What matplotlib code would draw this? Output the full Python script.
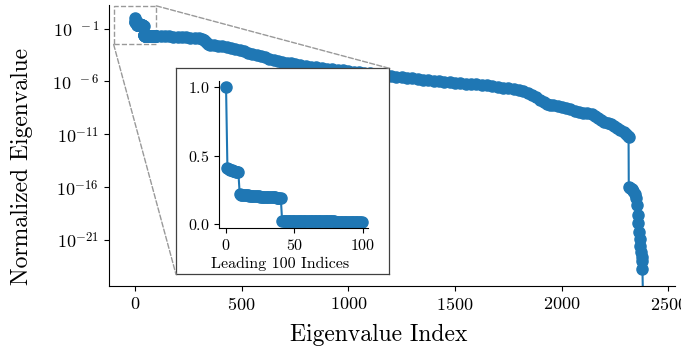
import numpy as np
import matplotlib
matplotlib.use("Agg")
import matplotlib.pyplot as plt
from matplotlib.patches import Rectangle, ConnectionPatch
from matplotlib.ticker import FixedLocator, FixedFormatter, NullLocator

plt.rcParams['font.family'] = 'serif'
plt.rcParams['font.serif'] = ['cmr10', 'DejaVu Serif']
plt.rcParams['mathtext.fontset'] = 'cm'
plt.rcParams['axes.unicode_minus'] = False
plt.rcParams['axes.formatter.use_mathtext'] = True

# leading 100 normalized eigenvalues (index 0..99)
lead_top = [1.0]
lead_second = [0.410, 0.405, 0.400, 0.396, 0.392, 0.388, 0.385, 0.382, 0.379]
lead_third = [0.218, 0.216, 0.215, 0.214, 0.213, 0.212, 0.211, 0.210, 0.209, 0.208,
              0.207, 0.206, 0.206, 0.205, 0.204, 0.203, 0.203, 0.202, 0.201, 0.200,
              0.200, 0.199, 0.198, 0.198, 0.197, 0.196, 0.196, 0.195, 0.194, 0.193,
              0.192]
lead_fourth = [0.0225, 0.0224, 0.0224, 0.0223, 0.0223, 0.0222, 0.0222, 0.0221, 0.0221, 0.0220,
               0.0220, 0.0219, 0.0219, 0.0218, 0.0218, 0.0217, 0.0217, 0.0216, 0.0216, 0.0215,
               0.0215, 0.0214, 0.0214, 0.0213, 0.0213, 0.0212, 0.0212, 0.0211, 0.0211, 0.0210,
               0.0210, 0.0209, 0.0209, 0.0208, 0.0208, 0.0207, 0.0207, 0.0206, 0.0206, 0.0205,
               0.0205, 0.0204, 0.0204, 0.0203, 0.0203, 0.0203, 0.0202, 0.0202, 0.0202, 0.0201,
               0.0201, 0.0201, 0.0201, 0.0200, 0.0200, 0.0200, 0.0200, 0.0200, 0.0200]
leading = lead_top + lead_second + lead_third + lead_fourth

# rest of the spectrum (index, log10 of value)
tail_idx = [120, 140, 160, 180, 200, 220, 240, 260, 280, 300, 315, 325, 332, 340, 350,
            370, 390, 410, 430, 450, 470, 490, 510, 530, 550, 570, 590, 610, 630, 650,
            670, 690, 710, 730, 750, 775, 800, 825, 850, 875, 900, 925, 950, 975, 1000,
            1025, 1050, 1075, 1100, 1125, 1150, 1175, 1200, 1225, 1250, 1275, 1300, 1325,
            1350, 1375, 1400, 1425, 1450, 1475, 1500, 1525, 1550, 1575, 1600, 1625, 1650,
            1675, 1700, 1725, 1750, 1775, 1800, 1820, 1840, 1860, 1880, 1900, 1915, 1930,
            1945, 1960, 1980, 2000, 2020, 2040, 2060, 2080, 2100, 2120, 2140, 2155, 2170,
            2185, 2200, 2215, 2230, 2245, 2260, 2275, 2290, 2300, 2310, 2313,
            2314, 2320, 2328, 2336, 2343, 2348, 2352, 2356, 2359, 2362, 2365, 2368, 2371,
            2374, 2376, 2378, 2381]
tail_log = [-1.71, -1.72, -1.73, -1.75, -1.77, -1.79, -1.82, -1.85, -1.87, -1.90, -1.95,
            -2.10, -2.30, -2.45, -2.52,
            -2.58, -2.63, -2.66, -2.72, -2.85, -2.95, -3.04, -3.15, -3.27, -3.38, -3.50,
            -3.62, -3.72, -3.83, -3.93,
            -4.02, -4.12, -4.21, -4.30, -4.38, -4.46, -4.53, -4.60, -4.66, -4.72, -4.78,
            -4.83, -4.89, -4.95, -5.00,
            -5.06, -5.12, -5.18, -5.24, -5.30, -5.36, -5.42, -5.48, -5.55, -5.60, -5.65,
            -5.70, -5.76,
            -5.83, -5.88, -5.93, -5.98, -6.03, -6.08, -6.13, -6.17, -6.21, -6.25, -6.28,
            -6.32, -6.38,
            -6.44, -6.50, -6.58, -6.64, -6.70, -6.78, -6.90, -7.08, -7.28, -7.50, -7.75,
            -7.98, -8.10,
            -8.18, -8.27, -8.35, -8.42, -8.50, -8.65, -8.80, -8.90, -8.95, -9.02, -9.12,
            -9.28, -9.45,
            -9.62, -9.82, -9.95, -10.05, -10.20, -10.40, -10.60, -10.78, -10.95, -11.15, -11.27,
            -16.0, -16.1, -16.2, -16.35, -16.6, -17.0, -17.7, -18.6, -19.4, -20.2, -20.9,
            -21.6, -22.1,
            -22.6, -23.0, -23.7, -27.0]

yticks = [1e-1, 1e-6, 1e-11, 1e-16, 1e-21]
ytick_labels = [r'$10^{\;\;-1}$', r'$10^{\;\;-6}$', r'$10^{-11}$', r'$10^{-16}$', r'$10^{-21}$']
xticks = [0, 500, 1000, 1500, 2000, 2500]
inset_xticks = [0, 50, 100]
inset_yticks = [0.0, 0.5, 1.0]

blue = '#1f77b4'

lead_idx = np.arange(len(leading))
all_idx = np.concatenate([lead_idx, tail_idx])
all_vals = np.concatenate([np.array(leading), 10.0 ** np.array(tail_log)])

fig = plt.figure(figsize=(6.81, 3.51), dpi=100)
ax = fig.add_axes([0.160, 0.185, 0.831, 0.801])
ax.plot(all_idx, all_vals, '-o', color=blue, lw=1.5, ms=8)
ax.set_yscale('log')
ax.set_xlim(-122, 2530)
ax.set_ylim(10 ** -25.35, 10 ** 1.24)
ax.yaxis.set_major_locator(FixedLocator(yticks))
ax.yaxis.set_major_formatter(FixedFormatter(ytick_labels))
ax.yaxis.set_minor_locator(NullLocator())
ax.set_xticks(xticks)
ax.tick_params(labelsize=13)
ax.spines['top'].set_visible(False)
ax.spines['right'].set_visible(False)
ax.set_xlabel('Eigenvalue Index', fontsize=17)
ax.set_ylabel('Normalized Eigenvalue', fontsize=17)
ax.xaxis.set_label_coords(0.4765, -0.135)
ax.yaxis.set_label_coords(-0.1334, 0.427)

# zoom region marker
zx0, zx1 = -100, 100
zy0, zy1 = 10 ** -2.5, 10 ** 1.15
ax.add_patch(Rectangle((zx0, zy0), zx1 - zx0, zy1 - zy0, fill=False,
                       ls='--', ec='0.6', lw=1.0))

# frame around the inset
box = fig.add_axes([0.2584, 0.2185, 0.3132, 0.5869])
box.set_xticks([])
box.set_yticks([])
for s in box.spines.values():
    s.set_edgecolor('0.25')
    s.set_linewidth(0.9)

for (xa, ya), (xb, yb) in [((zx1, zy1), (1, 1)), ((zx0, zy0), (0, 0))]:
    con = ConnectionPatch(xyA=(xa, ya), coordsA=ax.transData,
                          xyB=(xb, yb), coordsB=box.transAxes,
                          ls='--', color='0.6', lw=1.0)
    fig.add_artist(con)

ins = fig.add_axes([0.322, 0.3496, 0.2188, 0.4205])
ins.plot(lead_idx, leading, '-o', color=blue, lw=1.5, ms=8)
ins.set_xticks(inset_xticks)
ins.set_yticks(inset_yticks)
ins.tick_params(labelsize=11.5)
ins.spines['top'].set_visible(False)
ins.spines['right'].set_visible(False)
ins.set_xlabel('Leading 100 Indices', fontsize=11.5)
ins.xaxis.set_label_coords(0.41, -0.19)

fig.savefig('out.png', dpi=100)
